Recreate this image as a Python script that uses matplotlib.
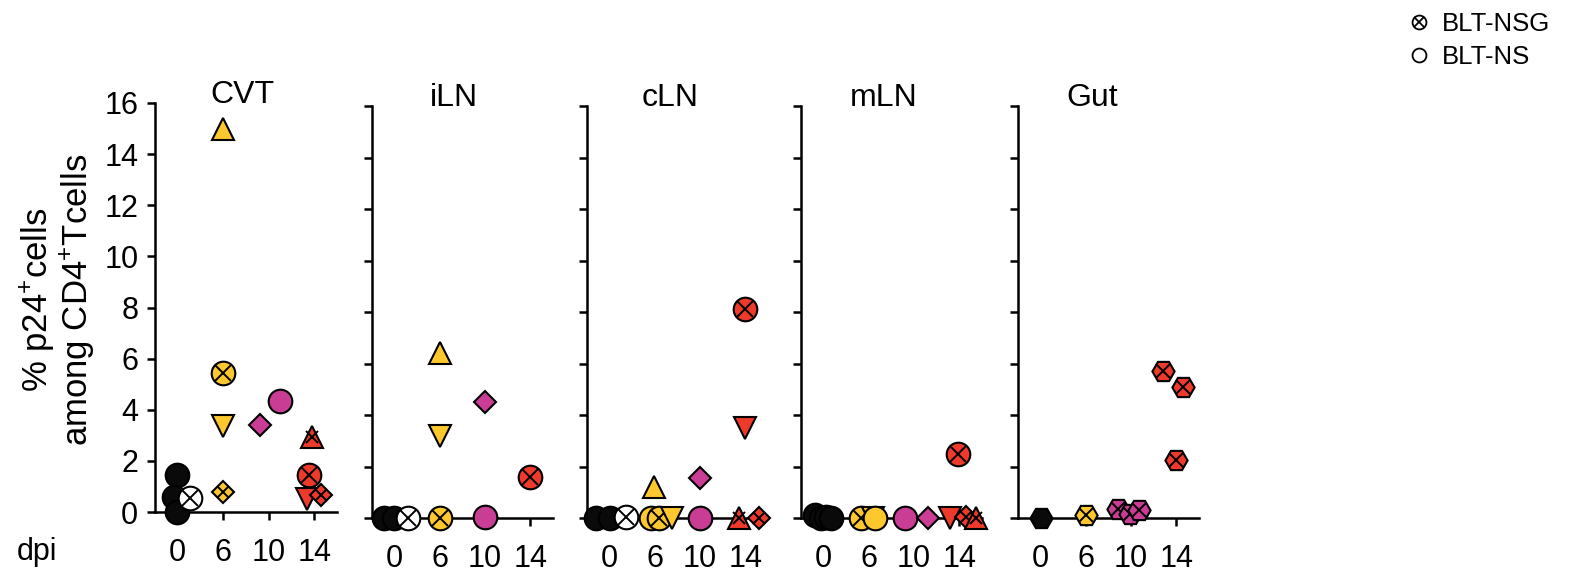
import matplotlib
matplotlib.use("Agg")
import matplotlib.pyplot as plt
from matplotlib.lines import Line2D
from matplotlib.legend_handler import HandlerTuple

plt.rcParams['font.family'] = ['Liberation Sans', 'DejaVu Sans']
plt.rcParams['mathtext.fontset'] = 'custom'
plt.rcParams['mathtext.rm'] = 'Liberation Sans'
plt.rcParams['mathtext.it'] = 'Liberation Sans:italic'
plt.rcParams['mathtext.bf'] = 'Liberation Sans:bold'

tissues = ["CVT", "iLN", "cLN", "mLN", "Gut"]
dpi_levels = [0, 6, 10, 14]

# per tissue: dpi of each mouse, % p24+ of CD4+ T cells, marker shape,
# BLT-NSG (1, crossed marker) or BLT-NS (0), horizontal scatter
cvt_dpi = [0, 0, 0, 0, 6, 6, 6, 6, 10, 10, 14, 14, 14, 14]
cvt_pct = [1.45, 0.6, 0.0, 0.55, 15.0, 5.45, 3.35, 0.8, 3.4, 4.35, 2.95, 1.45, 0.5, 0.65]
cvt_shape = ["o", "o", "o", "o", "^", "o", "v", "D", "D", "o", "^", "o", "v", "D"]
cvt_nsg = [0, 0, 0, 1, 0, 1, 0, 1, 0, 0, 1, 1, 0, 1]
cvt_jitter = [-0.02, -0.08, -0.02, 0.27, 0, 0, 0, 0, -0.2, 0.24, -0.05, -0.11, -0.16, 0.15]

iln_dpi = [0, 0, 0, 6, 6, 6, 10, 10, 14]
iln_pct = [0.0, 0.0, 0.0, 0.0, 6.4, 3.2, 4.5, 0.05, 1.6]
iln_shape = ["o", "o", "o", "o", "^", "v", "D", "o", "o"]
iln_nsg = [0, 0, 1, 1, 0, 0, 0, 0, 1]
iln_jitter = [-0.24, -0.02, 0.3, 0, 0, 0, 0, 0, 0]

cln_dpi = [0, 0, 0, 6, 6, 6, 6, 10, 10, 14, 14, 14, 14]
cln_pct = [0.0, 0.0, 0.05, 0.0, 0.0, 0.0, 1.2, 1.55, 0.0, 8.1, 3.5, 0.0, 0.0]
cln_shape = ["o", "o", "o", "o", "o", "v", "^", "D", "o", "o", "v", "^", "D"]
cln_nsg = [0, 0, 1, 0, 1, 0, 0, 0, 0, 1, 0, 1, 1]
cln_jitter = [-0.3, 0, 0.37, -0.08, 0.1, 0.38, -0.03, 0, 0, 0, 0, -0.15, 0.3]

mln_dpi = [0, 0, 0, 0, 6, 6, 6, 10, 10, 14, 14, 14, 14]
mln_pct = [0.1, 0.0, 0.05, 0.0, 0.0, 0.0, 0.0, 0.0, 0.0, 0.0, 0.05, 0.0, 2.5]
mln_shape = ["o", "o", "o", "o", "o", "v", "o", "o", "D", "v", "D", "^", "o"]
mln_nsg = [0, 0, 0, 0, 1, 0, 0, 0, 0, 0, 1, 1, 1]
mln_jitter = [-0.2, -0.05, 0.05, 0.17, -0.18, 0.1, 0.13, -0.2, 0.3, -0.2, 0.15, 0.36, -0.02]

gut_dpi = [0, 6, 10, 10, 10, 14, 14, 14]
gut_pct = [0.0, 0.1, 0.35, 0.15, 0.3, 5.7, 5.1, 2.25]
gut_shape = ["H", "H", "H", "H", "H", "H", "H", "H"]
gut_nsg = [0, 1, 1, 1, 1, 1, 1, 1]
gut_jitter = [0, 0, -0.28, -0.02, 0.18, -0.29, 0.15, 0]

panels = [
    (cvt_dpi, cvt_pct, cvt_shape, cvt_nsg, cvt_jitter),
    (iln_dpi, iln_pct, iln_shape, iln_nsg, iln_jitter),
    (cln_dpi, cln_pct, cln_shape, cln_nsg, cln_jitter),
    (mln_dpi, mln_pct, mln_shape, mln_nsg, mln_jitter),
    (gut_dpi, gut_pct, gut_shape, gut_nsg, gut_jitter),
]

dpi_colors = {0: "#0a0a0a", 6: "#fdc72e", 10: "#c93d95", 14: "#ee3a2a"}
marker_size = {"o": 17, "^": 16, "v": 16, "D": 11.2, "H": 16}
cross_scale = {"o": 0.7, "^": 0.55, "v": 0.55, "D": 0.72, "H": 0.62}

W, H = 1575, 574
fig = plt.figure(figsize=(W / 100, H / 100), dpi=100)

# axes boxes in pixels: left, top, right, bottom
boxes = [(155, 103, 337, 512), (372, 106, 553, 518), (587, 106, 768, 518),
         (801, 106, 982, 518), (1018, 106, 1199, 518)]
title_x = [0.48, 0.455, 0.46, 0.455, 0.41]

for k, (name, (dpis, pcts, shapes, nsg, jit)) in enumerate(zip(tissues, panels)):
    l, t, r, b = boxes[k]
    ax = fig.add_axes([l / W, 1 - b / H, (r - l) / W, (b - t) / H])
    for i in range(len(dpis)):
        xpos = dpi_levels.index(dpis[i]) + jit[i]
        m = shapes[i]
        face = dpi_colors[dpis[i]]
        if dpis[i] == 0 and nsg[i]:
            face = "white"
        ax.plot(xpos, pcts[i], marker=m, ms=marker_size[m], mfc=face, mec="black",
                mew=1.5, ls="none", clip_on=False, zorder=3 + i * 0.01)
        if nsg[i]:
            ax.plot(xpos, pcts[i], marker="x", ms=marker_size[m] * cross_scale[m],
                    mec="black", mew=1.4, ls="none", clip_on=False, zorder=3 + i * 0.01 + 0.005)

    ax.set_xlim(-0.5, 3.5)
    ax.set_ylim(0, 16)
    ax.set_yticks(range(0, 17, 2))
    ax.set_xticks(range(len(dpi_levels)))
    ax.set_xticklabels([str(d) for d in dpi_levels])
    for s in ["top", "right"]:
        ax.spines[s].set_visible(False)
    for s in ["left", "bottom"]:
        ax.spines[s].set_linewidth(1.8)
    ax.tick_params(axis="both", width=1.8, length=6, labelsize=22)
    ax.tick_params(axis="x", pad=13)
    ax.tick_params(axis="y", pad=6)
    if k > 0:
        ax.set_yticklabels([])
    ax.set_title(name, fontsize=23, x=title_x[k], y=1.0, pad=0)

fig.text(58 / W, 1 - 300 / H, "% p24$^{+}$cells\namong CD4$^{+}$Tcells", rotation=90,
         ha="center", va="center", fontsize=25, linespacing=1.05)
fig.text(37 / W, 1 - 552 / H, "dpi", ha="center", va="center", fontsize=22)

h_nsg = (Line2D([], [], marker="o", ms=10, mfc="white", mec="black", mew=1.3, ls="none"),
         Line2D([], [], marker="x", ms=6.5, mec="black", mew=1.3, ls="none"))
h_ns = Line2D([], [], marker="o", ms=10, mfc="white", mec="black", mew=1.3, ls="none")
fig.legend([h_nsg, h_ns], ["BLT-NSG", "BLT-NS"], loc="upper left",
           bbox_to_anchor=(1396 / W, 1.0), frameon=False, fontsize=18.5,
           handler_map={tuple: HandlerTuple(ndivide=1)}, handlelength=0.9,
           handletextpad=0.45, labelspacing=0.35, borderaxespad=0.05)

fig.savefig("out.png", dpi=100)
